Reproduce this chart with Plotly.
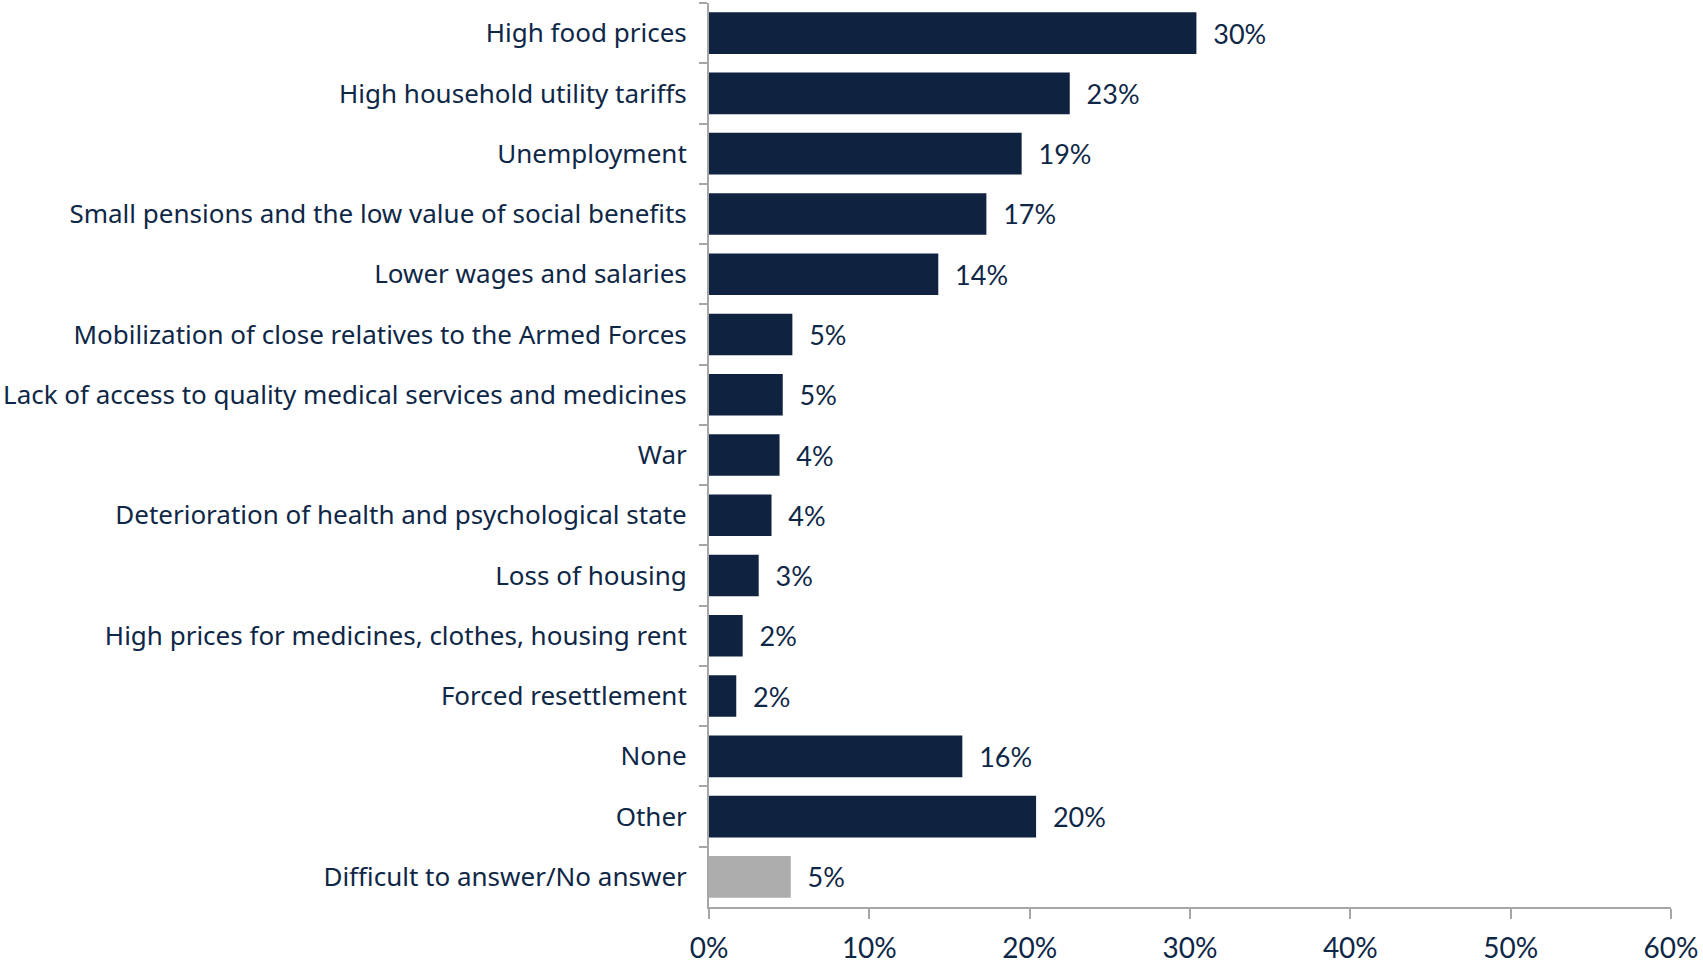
import plotly.graph_objects as go

categories = [
    "High food prices",
    "High household utility tariffs",
    "Unemployment",
    "Small pensions and the low value of social benefits",
    "Lower wages and salaries",
    "Mobilization of close relatives to the Armed Forces",
    "Lack of access to quality medical services and medicines",
    "War",
    "Deterioration of health and psychological state",
    "Loss of housing",
    "High prices for medicines, clothes, housing rent",
    "Forced resettlement",
    "None",
    "Other",
    "Difficult to answer/No answer",
]
values = [30.4, 22.5, 19.5, 17.3, 14.3, 5.2, 4.6, 4.4, 3.9, 3.1, 2.1, 1.7, 15.8, 20.4, 5.1]
labels = ["30%", "23%", "19%", "17%", "14%", "5%", "5%", "4%", "4%", "3%", "2%", "2%", "16%", "20%", "5%"]
x_ticks = [0, 10, 20, 30, 40, 50, 60]

NAVY = "#0F2341"
GRAY = "#ADADAD"
AXIS = "#A6A6A6"
TEXT = "#0E2747"
colors = [NAVY] * (len(categories) - 1) + [GRAY]

fig = go.Figure(
    go.Bar(
        x=values,
        y=categories,
        orientation="h",
        marker=dict(color=colors, line=dict(width=0)),
        text=["  " + t for t in labels],
        textposition="outside",
        cliponaxis=False,
        textfont=dict(family="Lato, Open Sans, sans-serif", size=27, color=TEXT),
    )
)

fig.update_layout(
    width=1703,
    height=965,
    margin=dict(l=709, r=32, t=3, b=58),
    plot_bgcolor="white",
    paper_bgcolor="white",
    bargap=0.31,
    showlegend=False,
    xaxis=dict(
        range=[0, 60],
        tickvals=x_ticks,
        ticktext=[f"{v}%" for v in x_ticks],
        showgrid=False,
        zeroline=False,
        showline=True,
        linecolor=AXIS,
        linewidth=2,
        ticks="outside",
        ticklen=10,
        tickwidth=2,
        tickcolor=AXIS,
        ticklabelstandoff=5,
        automargin=False,
        tickfont=dict(family="Lato, Open Sans, sans-serif", size=28, color=TEXT),
    ),
    yaxis=dict(
        autorange="reversed",
        showgrid=False,
        showline=True,
        linecolor=AXIS,
        linewidth=2,
        ticks="outside",
        tickson="boundaries",
        ticklen=8,
        tickwidth=2,
        tickcolor=AXIS,
        ticklabelstandoff=15,
        automargin=False,
        tickfont=dict(family="Noto Sans, sans-serif", size=26, color=TEXT),
    ),
)

fig.write_html(
    "out.html",
    config={"displayModeBar": False},
    post_script="document.body.style.margin='0';document.body.style.padding='0';window.dispatchEvent(new Event('resize'));",
)
